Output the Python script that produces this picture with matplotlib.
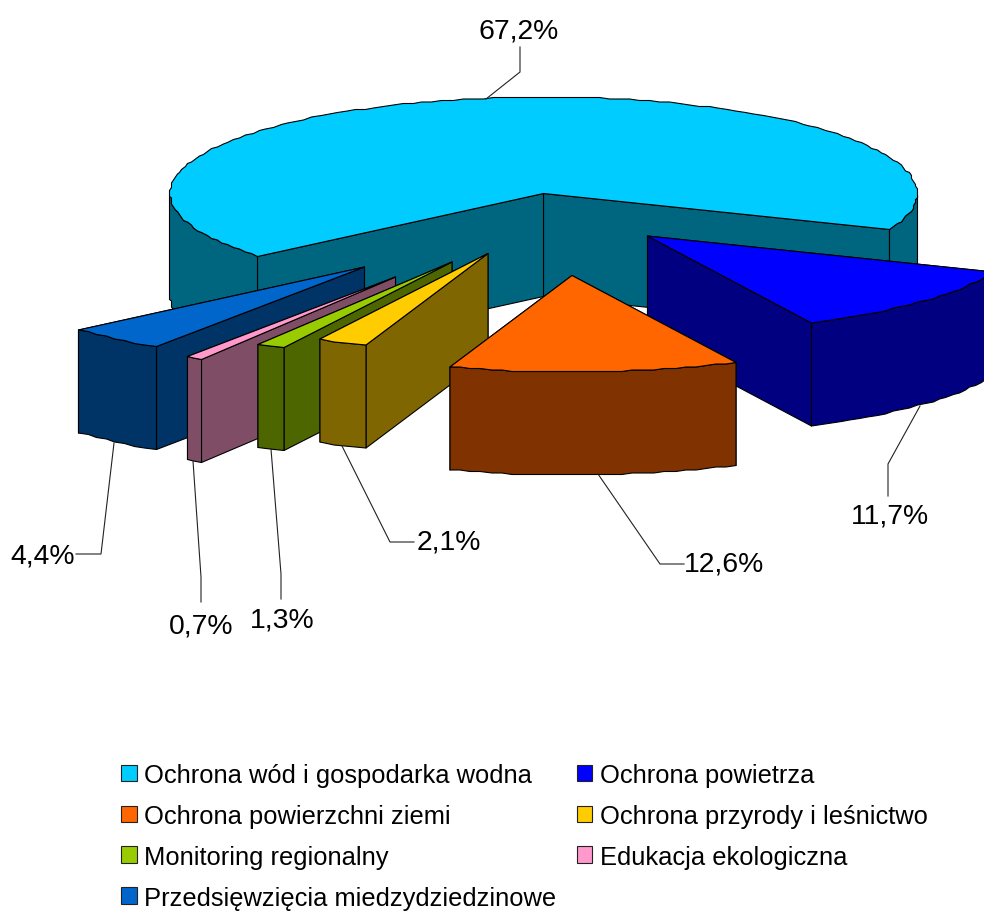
import numpy as np
import matplotlib
matplotlib.use("Agg")
import matplotlib.pyplot as plt
from matplotlib.patches import Polygon, Patch

plt.rcParams["font.family"] = ["Liberation Sans", "DejaVu Sans"]

categories = [
    "Ochrona wód i gospodarka wodna",
    "Ochrona powietrza",
    "Ochrona powierzchni ziemi",
    "Ochrona przyrody i leśnictwo",
    "Monitoring regionalny",
    "Edukacja ekologiczna",
    "Przedsięwzięcia miedzydziedzinowe",
]
shares = [67.2, 11.7, 12.6, 2.1, 1.3, 0.7, 4.4]

top_colors = ["#00CCFF", "#0000FF", "#FF6600", "#FFCC00", "#99CC00", "#FF99CC", "#0066CC"]
side_colors = ["#006680", "#000080", "#803300", "#806600", "#4D6600", "#804D66", "#003366"]

# where each exploded slice ended up on the page (apex of the top face, px)
apex_x = [543.5, 647.5, 572, 488, 452, 395.5, 364.5]
apex_y = [194.5, 237, 276.5, 254.5, 263, 278, 268]
draw_order = [0, 1, 6, 5, 4, 3, 2]

# label centre and leader line for each slice
label_x = [519, 890, 724, 449, 282, 201, 43]
label_y = [31, 517, 565, 543, 621, 627, 557]
leader_x = [[486, 520, 520], [920, 888, 888], [598, 660, 684], [342, 390, 414],
            [271, 281, 281], [193, 201, 201], [114, 101, 76]]
leader_y = [[100, 73, 48], [407, 465, 497], [475, 565, 565], [447, 543, 543],
            [450, 575, 600], [462, 578, 603], [444, 555, 555]]

RX, RY = 373.5, 96.5
DEPTH = 103
START = 220.2
LW = 0.8


def rim(cx, cy, t):
    # the original rim is jagged, snapping to a coarse grid gives the same look
    x = RX * np.cos(np.radians(t))
    y = -RY * np.sin(np.radians(t))
    return cx + np.round(x / 2) * 2, cy + np.round(y / 1.5) * 1.5


fig = plt.figure(figsize=(9.84, 9.12), dpi=100)
ax = fig.add_axes([0, 0, 1, 1])
ax.set_xlim(0, 984)
ax.set_ylim(912, 0)
ax.axis("off")

ends = START - np.cumsum(shares) * 3.6
starts = np.concatenate([[START], ends[:-1]])

for z, i in enumerate(draw_order):
    cx, cy = apex_x[i], apex_y[i]
    t = np.linspace(starts[i], ends[i], max(int((starts[i] - ends[i]) / 1.6), 3))
    xs, ys = rim(cx, cy, t)
    zo = 2 + z
    kw = dict(edgecolor="black", linewidth=LW, joinstyle="round", zorder=zo)

    # radial walls, the one further back first
    for k in sorted([0, -1], key=lambda k: ys[k]):
        wall = [(cx, cy), (xs[k], ys[k]), (xs[k], ys[k] + DEPTH), (cx, cy + DEPTH)]
        ax.add_patch(Polygon(wall, closed=True, facecolor=side_colors[i], **kw))

    # outer wall, only the part facing the viewer
    front = np.sin(np.radians(t)) <= 0
    breaks = np.where(np.diff(front.astype(int)) != 0)[0] + 1
    for xp, yp, fp in zip(np.split(xs, breaks), np.split(ys, breaks), np.split(front, breaks)):
        if not fp[0] or len(xp) < 2:
            continue
        pts = np.column_stack([np.r_[xp, xp[::-1]], np.r_[yp, yp[::-1] + DEPTH]])
        ax.add_patch(Polygon(pts, closed=True, facecolor=side_colors[i], **kw))

    top = np.column_stack([np.r_[cx, xs], np.r_[cy, ys]])
    ax.add_patch(Polygon(top, closed=True, facecolor=top_colors[i], **kw))

for i, share in enumerate(shares):
    ax.plot(leader_x[i], leader_y[i], color="#222222", lw=0.8, zorder=20,
            solid_joinstyle="miter")
    ax.text(label_x[i], label_y[i], f"{share:.1f}%".replace(".", ","), fontsize=20.4,
            ha="center", va="center", color="black", zorder=21)

handles = [Patch(facecolor=c, edgecolor="#222222", linewidth=LW) for c in top_colors]
# legend is filled row by row in the original, matplotlib fills by column
order = [0, 2, 4, 6, 1, 3, 5]
ax.legend([handles[i] for i in order], [categories[i] for i in order], ncol=2,
          loc="upper left", bbox_to_anchor=(121, 764), bbox_transform=ax.transData,
          frameon=False, fontsize=18.4, borderpad=0, borderaxespad=0,
          handlelength=0.62, handleheight=0.62, handletextpad=0.28,
          labelspacing=0.66, columnspacing=0.8)

plt.savefig("out.png", dpi=100)
plt.close()
